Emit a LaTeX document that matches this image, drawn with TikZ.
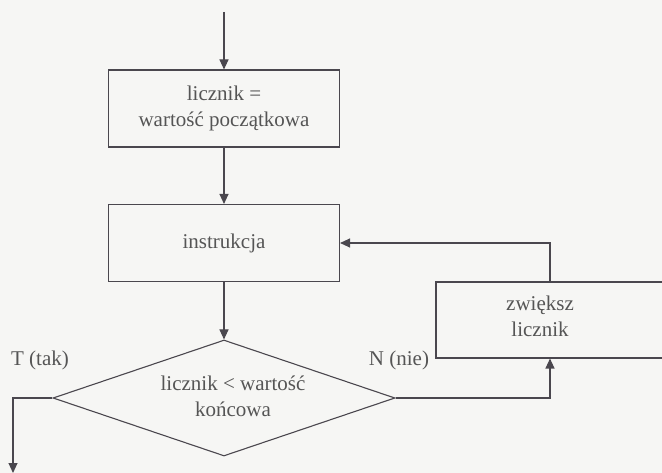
\documentclass[tikz,border=0pt]{standalone}
\usepackage{fontspec}
\setmainfont{Liberation Serif}
\newfontfamily\tms{Liberation Serif}
\usetikzlibrary{arrows.meta,shapes.geometric}
\definecolor{bg}{HTML}{F6F6F4}
\definecolor{ln}{HTML}{4A474E}
\definecolor{tx}{HTML}{555555}
\begin{document}
\begin{tikzpicture}[x=1pt,y=-1pt,
  every node/.style={text=tx,font=\tms\fontsize{21}{26}\selectfont},
  box/.style={draw=ln,line width=1.1pt,rectangle,minimum width=231pt,minimum height=77pt,inner sep=0pt,align=center},
  dec/.style={draw=ln,line width=1.1pt,diamond,minimum width=342pt,minimum height=116pt,aspect=2.95,inner sep=0pt},
  lbl/.style={inner sep=0pt,align=center},
  conn/.style={draw=ln,line width=1.1pt,-{Triangle[length=10pt,width=9pt]}}]
\fill[bg] (0,0) rectangle (662,473);
\useasboundingbox (0,0) rectangle (662,473);
\clip (0,0) rectangle (662,473);
\coordinate (start) at (224,12);
\node[box] (b1) at (224,108.5) {licznik =\\wartość początkowa};
\node[box] (b2) at (224,243) {instrukcja};
\node[dec] (d) at (224,398) {};
\node[lbl] (dt) at (233,396) {licznik < wartość\\końcowa};
\node[box,minimum width=250pt,minimum height=76pt] (b3) at (561,320) {};
\node[lbl] (b3t) at (540,316) {zwiększ\\licznik};
\coordinate (lx) at (550,0);
\coordinate (exit) at (13,473);
\node[lbl] (T) at (40,360) {T (tak)};
\node[lbl] (N) at (399,360) {N (nie)};
\draw[conn] (start) -- (b1.north);
\draw[conn] (b1.south) -- (b2.north);
\draw[conn] (b2.south) -- (d.north);
\draw[conn] (d.east) -| (b3.south -| lx);
\draw[conn] (b3.north -| lx) |- (b2.east);
\draw[conn] (d.west) -| (exit);
\end{tikzpicture}
\end{document}
